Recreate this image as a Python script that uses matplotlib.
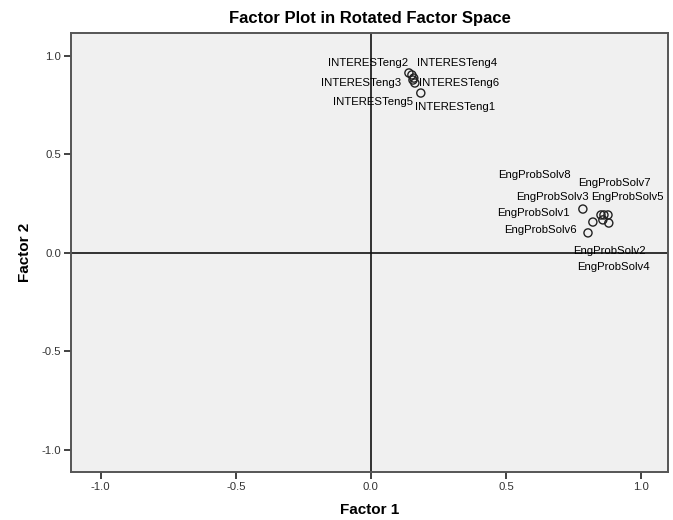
import matplotlib
matplotlib.use('Agg')
import matplotlib.pyplot as plt

plt.rcParams['font.family'] = ['Liberation Sans', 'DejaVu Sans']

# rotated loadings, factor 1 / factor 2
interest_names = ['INTERESTeng1', 'INTERESTeng2', 'INTERESTeng3',
                  'INTERESTeng4', 'INTERESTeng5', 'INTERESTeng6']
interest_f1 = [0.185, 0.141, 0.159, 0.152, 0.156, 0.163]
interest_f2 = [0.812, 0.914, 0.888, 0.904, 0.878, 0.863]

eng_names = ['EngProbSolv1', 'EngProbSolv2', 'EngProbSolv3', 'EngProbSolv4',
             'EngProbSolv5', 'EngProbSolv6', 'EngProbSolv7', 'EngProbSolv8']
eng_f1 = [0.785, 0.859, 0.822, 0.881, 0.878, 0.804, 0.863, 0.852]
eng_f2 = [0.223, 0.168, 0.157, 0.152, 0.193, 0.102, 0.193, 0.193]

ticks = [-1.0, -0.5, 0.0, 0.5, 1.0]

# label placement (pixel offsets from the point, horizontal alignment)
label_pos = {
    'INTERESTeng1': (-6, -14, 'left'),
    'INTERESTeng2': (-1, 10, 'right'),
    'INTERESTeng3': (-13, -5, 'right'),
    'INTERESTeng4': (5, 12, 'left'),
    'INTERESTeng5': (0, -22, 'right'),
    'INTERESTeng6': (4, 0, 'left'),
    'EngProbSolv1': (-13, -4, 'right'),
    'EngProbSolv2': (-30, -31, 'left'),
    'EngProbSolv3': (-4, 25, 'right'),
    'EngProbSolv4': (-32, -44, 'left'),
    'EngProbSolv5': (-17, 18, 'left'),
    'EngProbSolv6': (-11, 3, 'right'),
    'EngProbSolv7': (-26, 32, 'left'),
    'EngProbSolv8': (-30, 40, 'right'),
}

fig = plt.figure(figsize=(6.73, 5.2), dpi=100)
ax = fig.add_axes([0.1055, 0.0923, 0.887, 0.8443])
ax.set_facecolor('#F0F0F0')

ax.axhline(0, color='#111111', lw=1.2, zorder=1)
ax.axvline(0, color='#111111', lw=1.2, zorder=1)

names = interest_names + eng_names
f1 = interest_f1 + eng_f1
f2 = interest_f2 + eng_f2
ax.scatter(f1, f2, s=34, facecolors='none', edgecolors='#222222',
           linewidths=1.0, zorder=3)
for n, x, y in zip(names, f1, f2):
    dx, dy, ha = label_pos[n]
    ax.annotate(n, (x, y), xytext=(dx, dy), textcoords='offset pixels',
                ha=ha, va='center', fontsize=8.2, color='#000000', zorder=4)

ax.set_xlim(-1.11, 1.1)
ax.set_ylim(-1.112, 1.117)
ax.set_xticks(ticks, [f'{t:.1f}' for t in ticks])
ax.set_yticks(ticks, [f'{t:.1f}' for t in ticks])
ax.tick_params(direction='out', length=5, width=1.3, color='#333333',
               labelsize=8.2, labelcolor='#333333', pad=2)
for s in ax.spines.values():
    s.set_color('#555555')
    s.set_linewidth(1.4)

ax.set_xlabel('Factor 1', fontsize=11, fontweight='bold', labelpad=8)
ax.set_ylabel('Factor 2', fontsize=11, fontweight='bold', labelpad=7)
ax.set_title('Factor Plot in Rotated Factor Space', fontsize=12,
             fontweight='bold', pad=7)

fig.savefig('out.png', dpi=100)
